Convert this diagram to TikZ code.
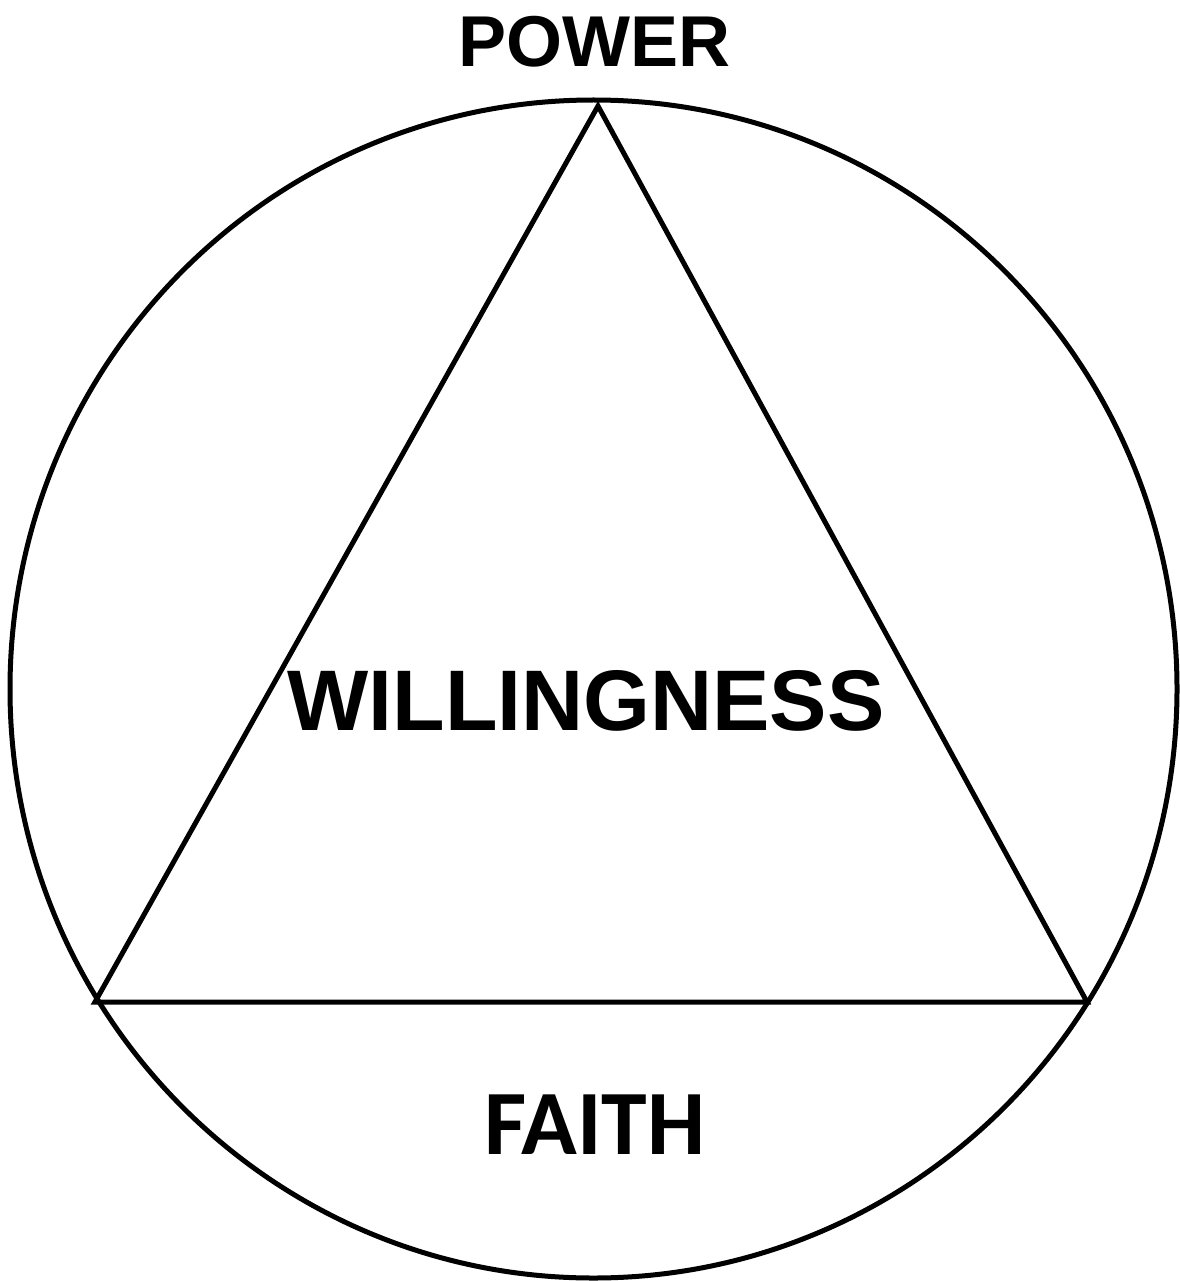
\documentclass[tikz,border=0pt]{standalone}
\usepackage{fontspec}
\setmainfont{Liberation Sans}
\newfontfamily\calfont{Carlito}
\begin{document}
\begin{tikzpicture}[x=1pt,y=-1pt,
  outline/.style={draw=black,line width=5pt},
  arialtxt/.style={anchor=base,inner sep=0pt,font=\bfseries\fontsize{#1}{#1}\selectfont},
  calitxt/.style={anchor=base,inner sep=0pt,font=\calfont\bfseries\fontsize{#1}{#1}\selectfont}]
\useasboundingbox (0,0) rectangle (1179,1281);
\coordinate (c) at (593.5,689);
\draw[outline] (c) ellipse [x radius=583.5, y radius=589];
\coordinate (apex) at (598,106);
\coordinate (bl) at (95,1002);
\coordinate (br) at (1087,1002);
\draw[outline,line join=miter] (apex) -- (br) -- (bl) -- cycle;
\node[arialtxt=72] (power) at (594,67) {POWER};
\node[arialtxt=86] (will) at (586,730) {WILLINGNESS};
\node[calitxt=92] (faith) at (595,1154) {FAITH};
\end{tikzpicture}
\end{document}
